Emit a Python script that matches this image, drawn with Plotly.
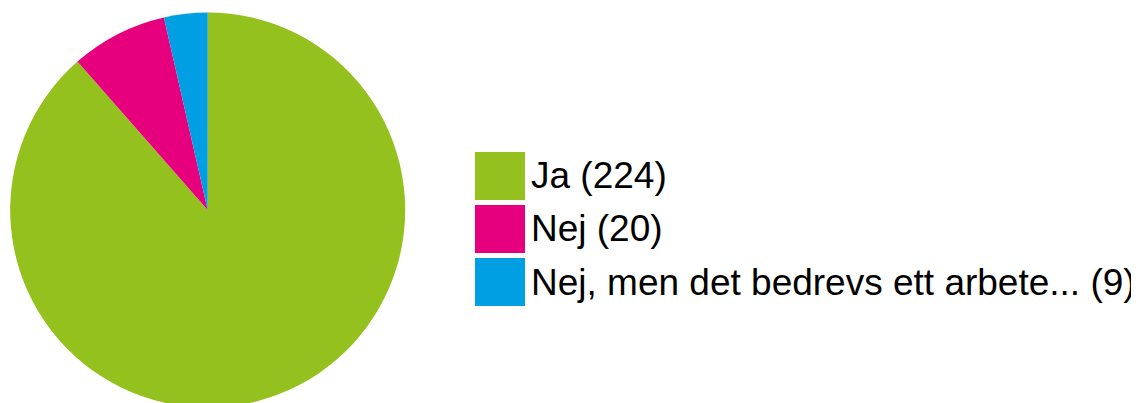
import plotly.graph_objects as go

# Survey answers
labels = ['Ja', 'Nej', 'Nej, men det bedrevs ett arbete...']
counts = [224, 20, 9]
colors = ['#95C11F', '#E6007E', '#009FE3']

W, H = 1139, 403
OFF = 8  # page body margin shifts the figure by this much

# pie centre/radius in screen pixels
cx, cy, r = 207.7, 210, 197.5
fx, fy = cx - OFF, cy - OFF

fig = go.Figure(go.Pie(
    labels=labels,
    values=counts,
    marker=dict(colors=colors, line=dict(width=0)),
    sort=False,
    direction='clockwise',
    rotation=0,
    textinfo='none',
    hoverinfo='label+value',
    showlegend=False,
    domain=dict(x=[(fx - r) / W, (fx + r) / W],
                y=[(H - fy - r) / H, (H - fy + r) / H]),
))

# hand-made legend with big square swatches
sw_x0, sw_x1 = 475 - OFF, 525 - OFF
first_y, step, half = 176 - OFF, 53, 24
for i, (lab, n, c) in enumerate(zip(labels, counts, colors)):
    yc = first_y + i * step
    fig.add_shape(type='rect', xref='paper', yref='paper',
                  x0=sw_x0 / W, x1=sw_x1 / W,
                  y0=1 - (yc + half) / H, y1=1 - (yc - half) / H,
                  fillcolor=c, line=dict(width=0))
    fig.add_annotation(xref='paper', yref='paper',
                       x=(529 - OFF) / W, y=1 - yc / H,
                       xanchor='left', yanchor='middle',
                       text=f'{lab} ({n})', showarrow=False,
                       font=dict(family='Liberation Sans, Arial', size=37, color='#000000'))

fig.update_layout(
    width=W, height=H,
    margin=dict(l=0, r=0, t=0, b=0),
    paper_bgcolor='white',
    plot_bgcolor='white',
)

fig.write_html("out.html")
